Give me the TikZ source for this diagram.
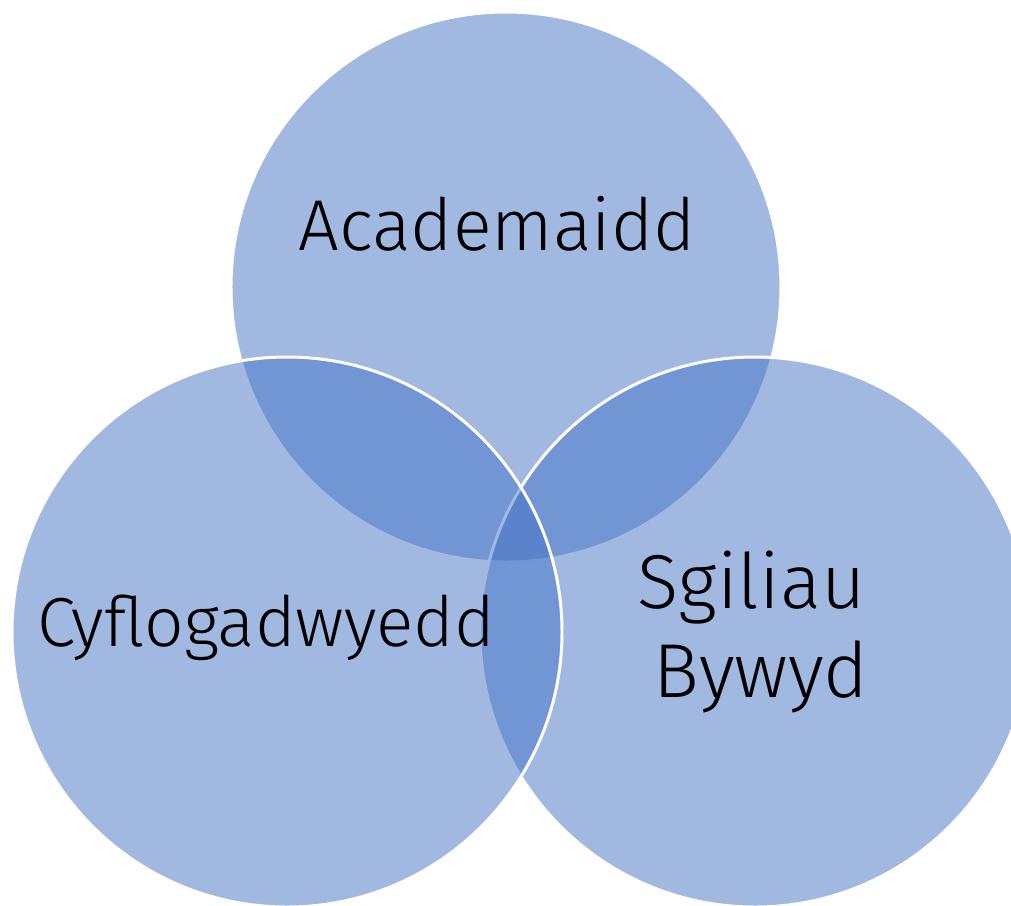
\documentclass[tikz,border=0pt]{standalone}
\usepackage{fontspec}
\setmainfont{Fira Sans Light}
\tikzset{
  {ring/.style} ={circle,draw=white,line width=1.7pt,fill={rgb,255:red,68;green,114;blue,196},
                  fill opacity=.5,minimum size=11cm,inner sep=0},
  {label/.style} ={text=black,anchor=base,inner sep=0,font=\fontsize{#1}{#1}\selectfont},
  label/.default = 41,
}

\begin{document}
\begin{tikzpicture}
\useasboundingbox (0,0) rectangle (20.22,-18.12);
\node[ring] (A) at (10.12,-5.74) {};
\node[ring] (S) at (15.10,-12.64) {};
\node[ring] (C) at (5.74,-12.64) {};
\node[label] (a) at (9.94,-5.00) {Academaidd};
\node[label=39.5] (c) at (5.32,-12.92) {Cyflogadwyedd};
\node[label=43.5] (s) at (15.03,-12.16) {Sgiliau};
\node[label=43.5] (b) at (15.22,-13.94) {Bywyd};
\end{tikzpicture}
\end{document}
